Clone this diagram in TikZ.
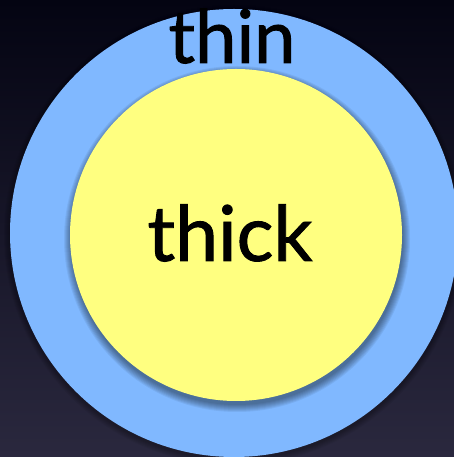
\documentclass[tikz,border=0pt]{standalone}
\usepackage{fontspec}
\setmainfont{Lato}
\newfontfamily\labelfont{Lato}[FakeBold=1.2]
\definecolor{skyblue}{RGB}{128,184,255}
\definecolor{paleyellow}{RGB}{255,255,128}
\definecolor{nighttop}{RGB}{4,4,18}
\definecolor{nightbottom}{RGB}{42,40,62}
\tikzset{
    disc/.style={circle, inner sep=0pt, minimum size=#1},
    word/.style={anchor=base, font=\labelfont\fontsize{74}{80}\selectfont, text=black}
}
\begin{document}
\begin{tikzpicture}[x=1pt,y=1pt]
    \shade[top color=nighttop, bottom color=nightbottom] (0,0) rectangle (454,457);
    \useasboundingbox (0,0) rectangle (454,457);
    % outer disc and its shadow
    \foreach \r in {1,...,6}
        \fill[black, opacity=0.05] (234,222) circle (224+\r);
    \node[disc=448pt, fill=skyblue] (thin) at (234,224) {};
    % inner disc and its shadow
    \foreach \r in {1,...,8}
        \fill[black, opacity=0.06] (237,218) circle (165+\r);
    \node[disc=332pt, fill=paleyellow] (thick) at (236,222) {};
    \node[word] (thinlabel) at (232,394) {thin};
    \node[word, font=\labelfont\fontsize{77}{84}\selectfont] (thicklabel) at (230,196) {thick};
\end{tikzpicture}
\end{document}
